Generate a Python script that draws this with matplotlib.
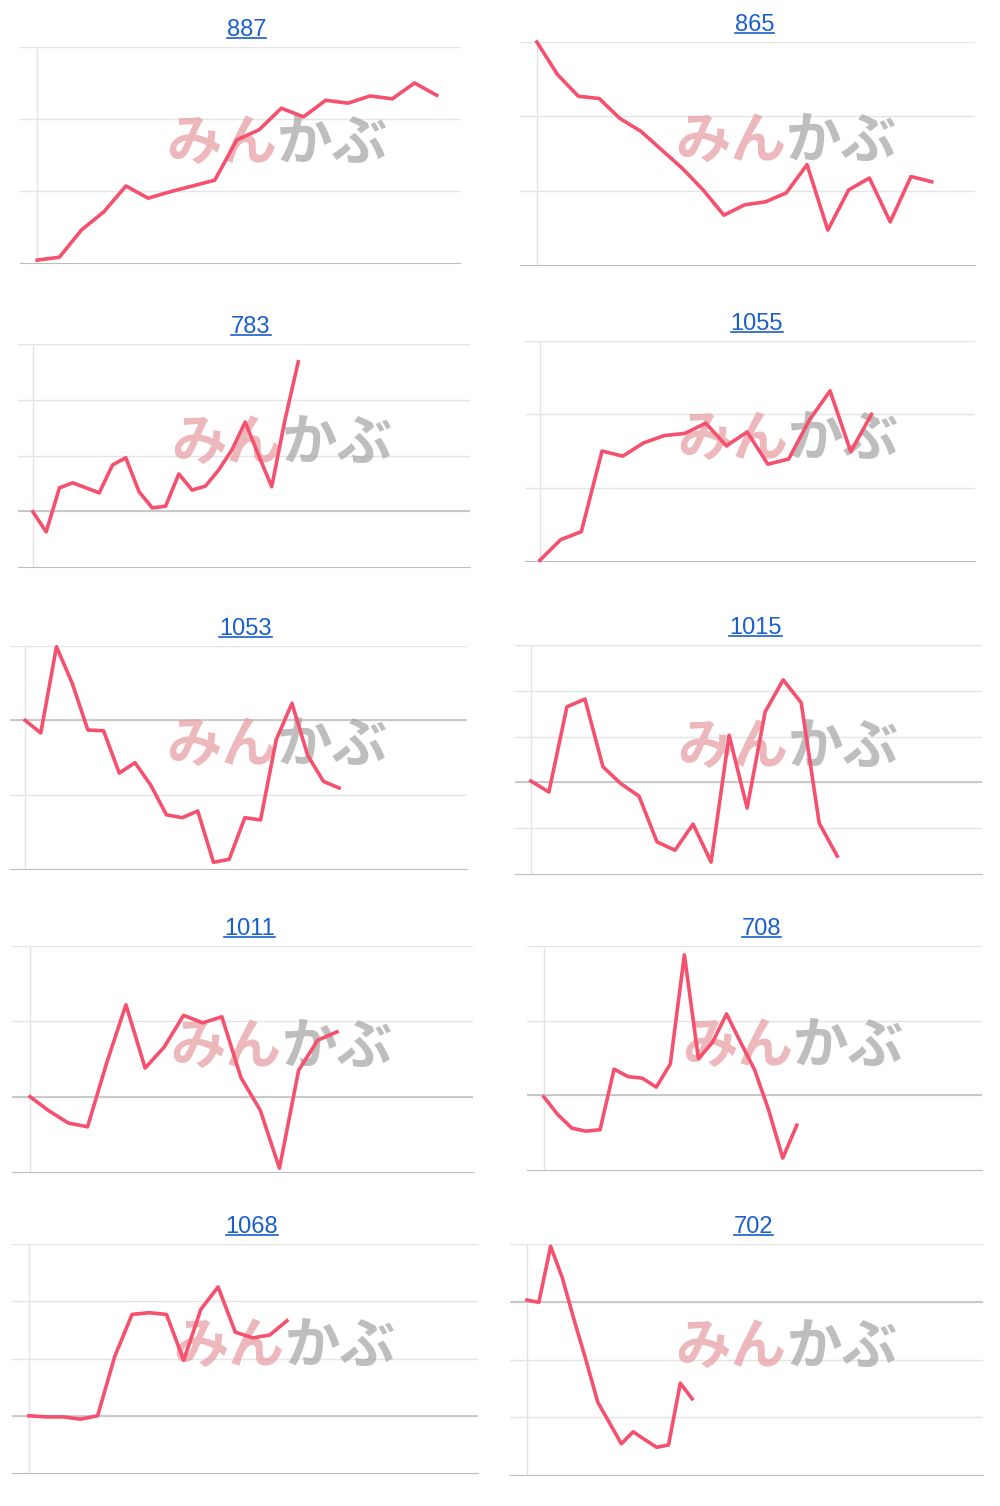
import matplotlib
matplotlib.use("Agg")
import matplotlib.pyplot as plt
import numpy as np

titles = ["887", "865", "783", "1055", "1053", "1015", "1011", "708", "1068", "702"]
v887 = [0.04,0.08,0.46,0.71,1.07,0.9,0.99,1.07,1.15,1.71,1.85,2.15,2.03,2.26,2.22,2.32,2.28,2.5,2.33]
v865 = [3.0,2.56,2.27,2.24,1.97,1.8,1.55,1.3,1.01,0.67,0.81,0.85,0.97,1.35,0.47,1.01,1.17,0.58,1.19,1.12]
v783 = [0.99,0.63,1.42,1.51,1.42,1.33,1.83,1.96,1.35,1.06,1.09,1.67,1.38,1.45,1.74,2.1,2.6,2.01,1.44,2.64,3.68]
v1055 = [0.01,0.29,0.4,1.5,1.43,1.61,1.71,1.74,1.88,1.57,1.76,1.32,1.39,1.92,2.32,1.49,2.0]
v1053 = [2.0,1.83,2.99,2.5,1.87,1.86,1.29,1.43,1.13,0.73,0.69,0.78,0.09,0.13,0.69,0.66,1.74,2.23,1.53,1.18,1.09]
v1015 = [2.03,1.79,3.65,3.82,2.34,1.97,1.70,0.7,0.52,1.09,0.26,3.03,1.44,3.54,4.24,3.74,1.11,0.39]
v1011 = [1.0,0.81,0.65,0.6,1.45,2.22,1.38,1.66,2.08,1.98,2.06,1.25,0.82,0.05,1.35,1.75,1.86]
v708 = [0.98,0.74,0.56,0.52,0.54,1.35,1.25,1.23,1.11,1.42,2.88,1.49,1.71,2.09,1.71,1.34,0.8,0.16,0.6]
v1068 = [1.0,0.98,0.98,0.94,1.0,2.04,2.77,2.8,2.77,1.97,2.86,3.25,2.46,2.36,2.41,2.66]
v702 = [3.03,2.99,3.96,3.41,2.68,1.99,1.26,0.9,0.54,0.75,0.61,0.48,0.52,1.59,1.32]
series = [v887, v865, v783, v1055, v1053, v1015, v1011, v708, v1068, v702]
ymax = [3, 3, 4, 3, 3, 5, 3, 3, 4, 4]
baseline = [None, None, 1, None, 2, 2, 1, 1, 1, 3]

boxes = [(20,47,460,263),(520,42,975,265),(18,344,470,567),(525,341,975,561),
         (10,646,467,869),(515,645,982,874),(12,946,473,1172),(527,946,982,1170),
         (12,1244,478,1473),(510,1244,983,1475)]
fr = [(0.039,0.947),(0.037,0.905),(0.033,0.62),(0.033,0.77),(0.033,0.72),
      (0.034,0.69),(0.039,0.705),(0.037,0.593),(0.036,0.59),(0.036,0.385)]

W, H = 1000, 1506
fig = plt.figure(figsize=(W/100, H/100), dpi=100)
fig.patch.set_facecolor("white")
titles_art = []
for i, v in enumerate(series):
    l, t, r, b = boxes[i]
    ax = fig.add_axes([l/W, 1-b/H, (r-l)/W, (b-t)/H])
    n = len(v)
    f0, f1 = fr[i]
    span = (n-1)/(f1-f0)
    x0 = -f0*span
    ax.set_xlim(x0, x0+span)
    ax.set_ylim(0, ymax[i])
    for g in range(1, ymax[i]+1):
        ax.axhline(g, color="#e4e4e4", lw=1, zorder=0)
    if baseline[i] is not None:
        ax.axhline(baseline[i], color="#c2c2c2", lw=1.2, zorder=0)
    ax.axvline(0, color="#e4e4e4", lw=1, zorder=0)
    for s in ["top", "right", "left"]:
        ax.spines[s].set_visible(False)
    ax.spines["bottom"].set_color("#bdbdbd")
    ax.set_xticks([]); ax.set_yticks([])
    ax.patch.set_alpha(0)
    ax.text(0.585, 0.55, "みん", transform=ax.transAxes, ha="right", va="center",
            fontsize=40, fontweight="bold", style="italic", color="#e8a0a5", alpha=0.75,
            family=["Noto Sans CJK JP", "DejaVu Sans"], zorder=1)
    ax.text(0.585, 0.55, "かぶ", transform=ax.transAxes, ha="left", va="center",
            fontsize=40, fontweight="bold", style="italic", color="#a8a8a8", alpha=0.75,
            family=["Noto Sans CJK JP", "DejaVu Sans"], zorder=1)
    ax.plot(np.arange(n), v, color="#f5506e", lw=2.6, zorder=3, clip_on=False)
    tt = ax.text(0.515, 1.0, titles[i], transform=ax.transAxes, ha="center", va="bottom",
                 color="#1a5fcc", fontsize=17, family="Liberation Sans")
    tt.set_y(1.0 + 6/(b-t))
    titles_art.append(tt)
fig.canvas.draw()
inv = fig.transFigure.inverted()
for tt in titles_art:
    bb = tt.get_window_extent()
    (x0, y0), (x1, y1) = inv.transform([(bb.x0, bb.y0+3), (bb.x1, bb.y0+3)])
    fig.add_artist(plt.Line2D([x0, x1], [y0, y1], color="#1a5fcc", lw=1.2))
fig.savefig("out.png", dpi=100)
